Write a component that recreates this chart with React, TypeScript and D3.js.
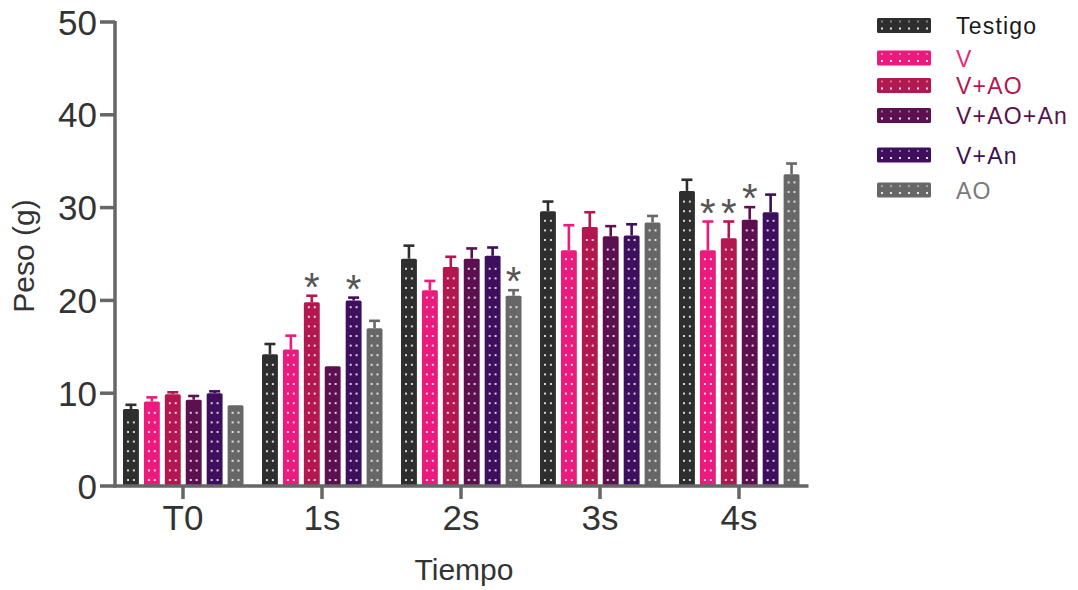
import React from "react";
import * as d3 from "d3";

// Body weight (g) by time point and treatment group
const categories = ["T0", "1s", "2s", "3s", "4s"];
const seriesNames = ["Testigo", "V", "V+AO", "V+AO+An", "V+An", "AO"];

const testigo = [8.3, 14.2, 24.5, 29.6, 31.8];
const testigoErr = [0.45, 1.1, 1.4, 1.05, 1.2];
const v = [9.1, 14.7, 21.1, 25.4, 25.4];
const vErr = [0.45, 1.5, 1.0, 2.7, 3.1];
const vAo = [9.9, 19.8, 23.6, 27.9, 26.7];
const vAoErr = [0.2, 0.7, 1.1, 1.6, 1.8];
const vAoAn = [9.3, 12.9, 24.5, 26.9, 28.7];
const vAoAnErr = [0.4, 0.1, 1.1, 1.1, 1.35];
const vAn = [10.0, 20.0, 24.8, 27.0, 29.5];
const vAnErr = [0.2, 0.3, 0.9, 1.2, 1.9];
const ao = [8.7, 17.0, 20.5, 28.4, 33.6];
const aoErr = [0.1, 0.8, 0.6, 0.7, 1.15];

// significance marks: [series index, category index]
const significant: [number, number][] = [
  [2, 1], [4, 1], [5, 2], [1, 4], [2, 4], [3, 4],
];

const yTicks = [0, 10, 20, 30, 40, 50];

const values = [testigo, v, vAo, vAoAn, vAn, ao];
const errors = [testigoErr, vErr, vAoErr, vAoAnErr, vAnErr, aoErr];

const barColors = ["#2e2e2e", "#ea1b7d", "#b3174f", "#5d104f", "#3e0f5d", "#676767"];
const legendTextColors = ["#1a1a1a", "#e32a80", "#b0184f", "#5a1050", "#3c1052", "#7a7a7a"];
const legendRowCenter = [25.5, 58, 85.5, 115.5, 155, 190];

const FONT = "'Liberation Sans', Arial, Helvetica, sans-serif";

export default function App() {
  const width = 1078;
  const height = 590;

  const x = d3.scaleBand<string>().domain(categories).range([113.5, 808.5]);
  const xInner = d3
    .scaleBand<string>()
    .domain(seriesNames)
    .range([9.5, 130])
    .paddingInner(0.24)
    .paddingOuter(0);
  const y = d3.scaleLinear().domain([0, 50]).range([486, 22]);

  const axisColor = "#666";
  const bw = xInner.bandwidth();

  const bars: React.ReactNode[] = [];
  seriesNames.forEach((name, si) => {
    categories.forEach((cat, ci) => {
      const val = values[si][ci];
      const err = errors[si][ci];
      const bx = (x(cat) as number) + (xInner(name) as number);
      const top = y(val);
      const bottom = y(0);
      const color = barColors[si];
      const cx = bx + bw / 2;
      const errTop = y(val + err);
      const dots: React.ReactNode[] = [];
      for (let yy = bottom - 6, r = 0; yy > top + 4; yy -= 9.6, r++) {
        [4, bw - 6].forEach((dx, k) => {
          dots.push(
            <rect
              key={`${r}-${k}`}
              x={bx + dx}
              y={yy - 1}
              width={2}
              height={2}
              fill="#fff"
              opacity={0.8}
            />
          );
        });
      }
      bars.push(
        <g key={`${si}-${ci}`}>
          {err > 0.15 && (
            <g stroke={color} strokeWidth={2.6}>
              <line x1={cx} x2={cx} y1={top} y2={errTop} />
              <line x1={cx - 5.5} x2={cx + 5.5} y1={errTop} y2={errTop} />
            </g>
          )}
          <rect x={bx} y={top} width={bw} height={bottom - top} fill={color} rx={1.5} />
          {dots}
        </g>
      );
    });
  });

  const stars = significant.map(([si, ci]) => {
    const bx = (x(categories[ci]) as number) + (xInner(seriesNames[si]) as number);
    const capY = y(values[si][ci] + errors[si][ci]);
    return (
      <text
        key={`s-${si}-${ci}`}
        x={bx + bw / 2}
        y={capY + 5}
        textAnchor="middle"
        fontFamily={FONT}
        fontSize={40}
        fill="#555"
      >
        *
      </text>
    );
  });

  return (
    <svg
      width={width}
      height={height}
      style={{ position: "absolute", left: 0, top: 0, background: "#fff" }}
    >
      <rect width={width} height={height} fill="#fff" />

      {/* y axis */}
      <line x1={115} x2={115} y1={y(50) - 1} y2={y(0) + 1.5} stroke={axisColor} strokeWidth={3.5} />
      {yTicks.map((t) => (
        <g key={t}>
          <line x1={100} x2={115} y1={y(t)} y2={y(t)} stroke={axisColor} strokeWidth={3.5} />
          <text
            x={97}
            y={y(t) + 12.5}
            textAnchor="end"
            fontFamily={FONT}
            fontSize={35}
            fill="#333"
          >
            {t}
          </text>
        </g>
      ))}
      <text
        transform={`translate(34, 256) rotate(-90)`}
        textAnchor="middle"
        fontFamily={FONT}
        fontSize={30}
        fill="#333"
      >
        Peso (g)
      </text>

      {/* bars */}
      {bars}
      {stars}

      {/* x axis */}
      <line x1={113.25} x2={808.5} y1={y(0)} y2={y(0)} stroke={axisColor} strokeWidth={3.5} />
      {categories.map((c) => {
        const cx = (x(c) as number) + x.bandwidth() / 2;
        return (
          <g key={c}>
            <line x1={cx} x2={cx} y1={y(0)} y2={y(0) + 13} stroke={axisColor} strokeWidth={3.5} />
            <text x={cx} y={530} textAnchor="middle" fontFamily={FONT} fontSize={35} fill="#333">
              {c}
            </text>
          </g>
        );
      })}
      <text x={464} y={580} textAnchor="middle" fontFamily={FONT} fontSize={30} fill="#333">
        Tiempo
      </text>

      {/* legend */}
      {seriesNames.map((name, i) => {
        const cy = legendRowCenter[i];
        const sx = 877;
        const sw = 54;
        const sh = 15;
        const swatchDots: React.ReactNode[] = [];
        for (let k = 0; k < 6; k++) {
          swatchDots.push(
            <rect key={`a${k}`} x={sx + 4 + k * 9} y={cy - 5} width={2} height={2} fill="#fff" opacity={0.4} />
          );
          swatchDots.push(
            <rect key={`b${k}`} x={sx + 4 + k * 9} y={cy + 2} width={2} height={2} fill="#fff" opacity={0.85} />
          );
        }
        return (
          <g key={name}>
            <rect x={sx} y={cy - sh / 2} width={sw} height={sh} fill={barColors[i]} rx={1.5} />
            {swatchDots}
            <text
              x={956}
              y={cy + 8.5}
              fontFamily={FONT}
              fontSize={23}
              letterSpacing={1.2}
              fill={legendTextColors[i]}
            >
              {name}
            </text>
          </g>
        );
      })}
    </svg>
  );
}
